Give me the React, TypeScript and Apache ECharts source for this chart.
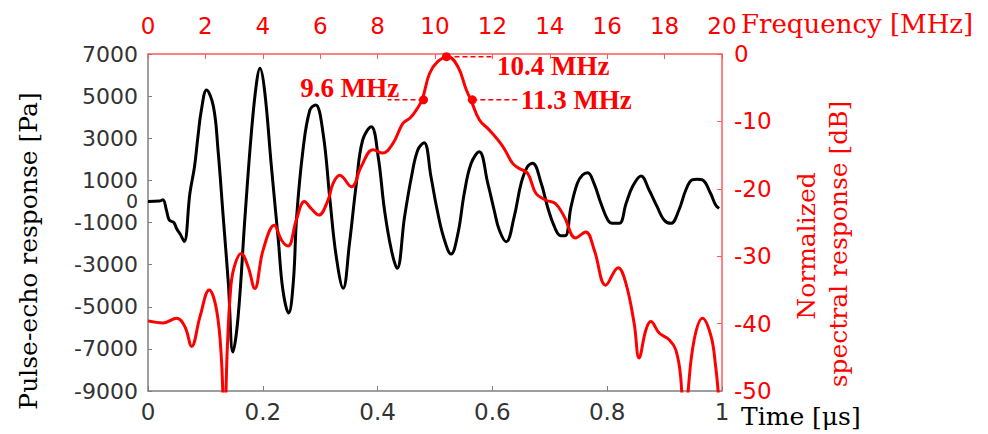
import React, { useEffect, useRef } from "react";
import * as echarts from "echarts";

// Time-domain pulse-echo response
const timeUs = [0, 0.02, 0.026, 0.032, 0.037, 0.045, 0.05, 0.056, 0.063, 0.073, 0.081, 0.087, 0.093, 0.102, 0.114, 0.122, 0.131, 0.14, 0.148, 0.157, 0.169, 0.18, 0.189, 0.195, 0.203, 0.215, 0.227, 0.235, 0.245, 0.253, 0.259, 0.27, 0.282, 0.292, 0.305, 0.317, 0.328, 0.34, 0.351, 0.363, 0.374, 0.389, 0.401, 0.412, 0.424, 0.434, 0.447, 0.459, 0.47, 0.481, 0.493, 0.503, 0.515, 0.528, 0.54, 0.551, 0.563, 0.577, 0.592, 0.603, 0.612, 0.624, 0.638, 0.65, 0.661, 0.67, 0.685, 0.696, 0.708, 0.719, 0.727, 0.737, 0.748, 0.757, 0.766, 0.777, 0.789, 0.801, 0.809, 0.821, 0.833, 0.844, 0.859, 0.873, 0.887, 0.899, 0.911, 0.925, 0.937, 0.948, 0.957, 0.966, 0.98, 0.989, 0.995];
const pressurePa = [0, 20, 80, -400, -880, -1000, -1300, -1550, -1900, 386, 1650, 3075, 4340, 5290, 4500, 2442, -725, -3890, -7150, -5470, -725, 3235, 5610, 6320, 5290, 1650, -1830, -4205, -5300, -3890, -725, 2442, 4340, 4580, 3235, 68, -2625, -4125, -1990, 860, 2917, 3550, 2125, -407, -2306, -3175, -725, 1175, 2442, 2790, 1175, -300, -1700, -2500, -1515, 386, 1810, 2360, 860, -407, -1356, -1910, -725, 860, 1650, 1810, 860, -250, -1200, -1625, -1625, -250, 860, 1255, 1365, 860, -90, -880, -1040, -1040, -90, 700, 1210, 543, -250, -880, -1040, -407, 543, 1020, 1050, 1020, 386, -170, -330];

// Normalized spectral response
const freqMHz = [0, 0.53, 1.0, 1.29, 1.52, 1.81, 2.13, 2.39, 2.56, 2.66, 2.76, 2.86, 2.98, 3.25, 3.49, 3.72, 4.01, 4.4, 4.65, 4.88, 5.17, 5.45, 5.7, 5.95, 6.27, 6.45, 6.68, 7.09, 7.43, 7.84, 8.18, 8.53, 8.88, 9.13, 9.35, 9.55, 9.81, 10.1, 10.45, 10.8, 11.09, 11.25, 11.55, 11.9, 12.36, 12.7, 12.94, 13.23, 13.52, 13.87, 14.2, 14.5, 14.9, 15.25, 15.55, 15.95, 16.38, 16.65, 16.94, 17.11, 17.35, 17.52, 17.81, 18.16, 18.39, 18.56, 18.7, 18.82, 19.03, 19.32, 19.62, 19.78, 19.87, 20];
const spectrumDb = [-39.6, -39.9, -39.2, -40.5, -43.4, -39.0, -35.0, -38.0, -45.4, -56, -44, -36, -32, -29.6, -31.6, -34.8, -29.1, -25.4, -27.6, -28.5, -24.6, -21.9, -23.0, -23.9, -21.7, -19.2, -18.0, -19.7, -16.7, -14.2, -14.7, -13.3, -10.3, -9.5, -8.3, -6.8, -2.9, -1.1, -0.4, -1.9, -5.3, -6.8, -9.8, -11.3, -13.7, -16.2, -17.0, -17.7, -20.7, -21.7, -22.2, -24.1, -27.3, -26.4, -29.1, -34.3, -31.7, -34.0, -40.0, -45.1, -40.9, -39.7, -41.4, -42.4, -43.9, -47.9, -58, -50, -42.4, -39.2, -41.9, -46.4, -50.3, -58];

// Annotated frequencies
const annoFreq = [9.6, 10.4, 11.3];
const annoDb = [-6.8, -0.4, -6.8];
const annoLineEnd = [8.35, 11.97, 12.87];
const annoText = ["9.6 MHz", "10.4 MHz", "11.3 MHz"];

const leftTicks = [-9000, -7000, -5000, -3000, -1000, 0, 1000, 3000, 5000, 7000];

const RED = "#ff0000";
const AXRED = "#ff5a5a";
const GRAY = "#7f7f7f";
const SANS = "DejaVu Sans";
const SERIF = "DejaVu Serif";
const BSERIF = "Liberation Serif";

export default function App() {
  const ref = useRef<HTMLDivElement>(null);
  useEffect(() => {
    if (!ref.current) return;
    const chart = echarts.init(ref.current, null, { renderer: "svg" });
    const pulse = timeUs.map((t, i) => [t, pressurePa[i]]);
    const spec = freqMHz.map((f, i) => [f, spectrumDb[i]]);
    const labelPos: any[] = [
      { position: "left", offset: [17, -12] },
      { position: "right", offset: [0, 9] },
      { position: "right", offset: [-2, 0] },
    ];
    const annoSeries = annoFreq.map((f, i) => ({
      type: "line",
      xAxisIndex: 1,
      yAxisIndex: 1,
      z: 5,
      silent: true,
      showSymbol: true,
      lineStyle: { color: RED, width: 1.5, type: [5, 3] },
      data: [
        {
          value: [f, annoDb[i]],
          symbol: "circle",
          symbolSize: 9,
          itemStyle: { color: RED },
        },
        {
          value: [annoLineEnd[i], annoDb[i]],
          symbol: "circle",
          symbolSize: 1,
          itemStyle: { color: "rgba(0,0,0,0)", borderWidth: 0 },
          label: {
            show: true,
            ...labelPos[i],
            formatter: annoText[i],
            color: RED,
            fontFamily: BSERIF,
            fontWeight: "bold",
            fontSize: 27,
          },
        },
      ],
    }));
    chart.setOption({
      animation: false,
      grid: { left: 148, right: 266, top: 54, bottom: 43, containLabel: false },
      xAxis: [
        {
          type: "value",
          position: "bottom",
          min: 0,
          max: 1,
          interval: 0.2,
          axisLine: { show: true, onZero: false, lineStyle: { color: GRAY, width: 1.5 } },
          axisTick: { show: true, inside: true, length: 5, lineStyle: { color: GRAY } },
          splitLine: { show: false },
          axisLabel: { color: "#333", fontFamily: SANS, fontSize: 23, margin: 9 },
        },
        {
          type: "value",
          position: "top",
          min: 0,
          max: 20,
          interval: 2,
          axisLine: { show: true, onZero: false, lineStyle: { color: AXRED, width: 1.5 } },
          axisTick: { show: true, inside: true, length: 5, lineStyle: { color: AXRED } },
          splitLine: { show: false },
          axisLabel: { color: RED, fontFamily: SANS, fontSize: 23, margin: 17 },
        },
      ],
      yAxis: [
        {
          type: "value",
          position: "left",
          min: -9000,
          max: 7000,
          axisLine: { show: true, onZero: false, lineStyle: { color: GRAY, width: 1.5 } },
          axisTick: { show: true, inside: true, length: 4, customValues: leftTicks, lineStyle: { color: GRAY } },
          splitLine: { show: false },
          axisLabel: {
            color: "#333",
            fontFamily: SANS,
            fontSize: 22,
            lineHeight: 16,
            margin: 10,
            customValues: leftTicks,
            formatter: (v: number) => (v === 0 ? "{z|0}" : String(v)),
            rich: {
              z: { fontSize: 19, lineHeight: 12, color: "#333", fontFamily: SANS },
            },
          },
        },
        {
          type: "value",
          position: "right",
          min: -50,
          max: 0,
          interval: 10,
          axisLine: { show: true, onZero: false, lineStyle: { color: AXRED, width: 1.5 } },
          axisTick: { show: true, inside: true, length: 5, lineStyle: { color: AXRED } },
          splitLine: { show: false },
          axisLabel: { color: RED, fontFamily: SANS, fontSize: 23, margin: 12 },
        },
      ],
      series: [
        {
          type: "line",
          xAxisIndex: 0,
          yAxisIndex: 0,
          data: pulse,
          smooth: 0.4,
          showSymbol: false,
          lineStyle: { color: "#000", width: 3 },
          z: 2,
        },
        {
          type: "line",
          xAxisIndex: 1,
          yAxisIndex: 1,
          data: spec,
          smooth: 0.4,
          showSymbol: false,
          clip: true,
          lineStyle: { color: RED, width: 3 },
          z: 3,
        },
        ...annoSeries,
      ],
      graphic: [
        {
          type: "text",
          x: 28,
          y: 251,
          rotation: Math.PI / 2,
          style: {
            text: "Pulse-echo response [Pa]",
            fill: "#000",
            font: `25px "${SERIF}"`,
            align: "center",
            verticalAlign: "middle",
          },
        },
        {
          type: "text",
          x: 806,
          y: 246,
          rotation: Math.PI / 2,
          style: {
            text: "Normalized",
            fill: RED,
            font: `25px "${SERIF}"`,
            align: "center",
            verticalAlign: "middle",
          },
        },
        {
          type: "text",
          x: 838,
          y: 244,
          rotation: Math.PI / 2,
          style: {
            text: "spectral response [dB]",
            fill: RED,
            font: `25px "${SERIF}"`,
            align: "center",
            verticalAlign: "middle",
          },
        },
        {
          type: "text",
          x: 741,
          y: 416,
          style: {
            text: "Time [μs]",
            fill: "#000",
            font: `25px "${SERIF}"`,
            align: "left",
            verticalAlign: "middle",
          },
        },
        {
          type: "text",
          x: 741,
          y: 24,
          style: {
            text: "Frequency [MHz]",
            fill: RED,
            font: `26px "${SERIF}"`,
            align: "left",
            verticalAlign: "middle",
          },
        },
      ],
    });
    return () => chart.dispose();
  }, []);
  return (
    <div style={{ position: "absolute", left: 0, top: 0, width: 988, height: 434, background: "#fff" }}>
      <div ref={ref} style={{ width: 988, height: 434 }} />
    </div>
  );
}
